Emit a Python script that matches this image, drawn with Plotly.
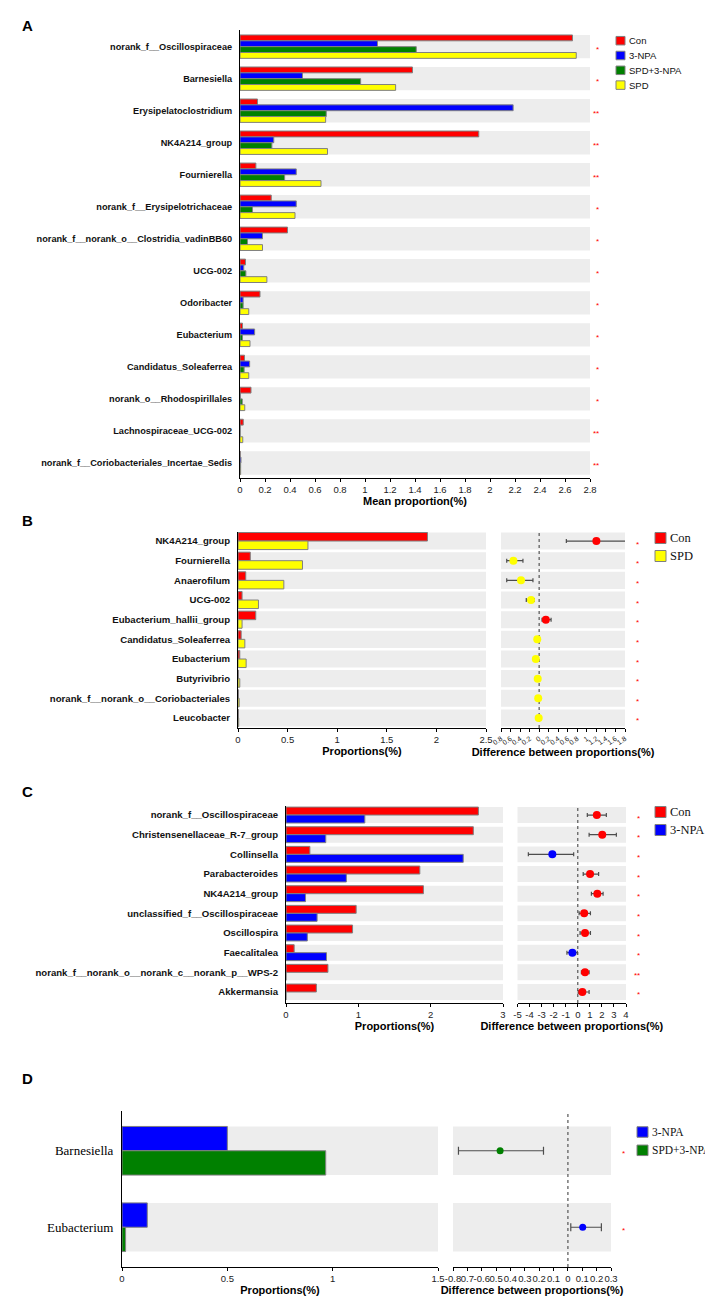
import plotly.graph_objects as go

W, H = 713, 1296

# ---------------- data ----------------
a_categories = ["norank_f__Oscillospiraceae", "Barnesiella", "Erysipelatoclostridium", "NK4A214_group",
                "Fournierella", "norank_f__Erysipelotrichaceae", "norank_f__norank_o__Clostridia_vadinBB60",
                "UCG-002", "Odoribacter", "Eubacterium", "Candidatus_Soleaferrea", "norank_o__Rhodospirillales",
                "Lachnospiraceae_UCG-002", "norank_f__Coriobacteriales_Incertae_Sedis"]
a_groups = ["Con", "3-NPA", "SPD+3-NPA", "SPD"]
a_con = [2.66, 1.38, 0.14, 1.91, 0.127, 0.25, 0.38, 0.044, 0.16, 0.02, 0.036, 0.088, 0.026, 0.002]
a_npa = [1.10, 0.50, 2.185, 0.27, 0.45, 0.45, 0.18, 0.03, 0.025, 0.117, 0.077, 0.002, 0.001, 0.008]
a_spd_npa = [1.41, 0.965, 0.69, 0.255, 0.357, 0.10, 0.06, 0.047, 0.025, 0.02, 0.033, 0.018, 0.001, 0.005]
a_spd = [2.69, 1.245, 0.685, 0.70, 0.648, 0.44, 0.18, 0.215, 0.07, 0.08, 0.07, 0.038, 0.022, 0.005]
a_sig = ["*", "*", "**", "**", "**", "*", "*", "*", "*", "*", "*", "*", "**", "**"]

b_categories = ["NK4A214_group", "Fournierella", "Anaerofilum", "UCG-002", "Eubacterium_hallii_group",
                "Candidatus_Soleaferrea", "Eubacterium", "Butyrivibrio", "norank_f__norank_o__Coriobacteriales",
                "Leucobacter"]
b_groups = ["Con", "SPD"]
b_con = [1.91, 0.124, 0.078, 0.041, 0.179, 0.032, 0.018, 0.004, 0.004, 0.004]
b_spd = [0.705, 0.65, 0.462, 0.206, 0.041, 0.069, 0.082, 0.018, 0.012, 0.007]
b_diff = [1.20, -0.54, -0.38, -0.17, 0.14, -0.04, -0.07, -0.03, -0.02, -0.01]
b_low = [0.57, -0.68, -0.68, -0.27, 0.06, -0.05, -0.08, -0.04, -0.03, -0.02]
b_high = [1.83, -0.34, -0.13, -0.10, 0.25, -0.03, -0.06, -0.02, -0.01, 0.0]
b_sig = ["*"] * 10
b_ticks = [-0.8, -0.6, -0.4, -0.2, 0, 0.2, 0.4, 0.6, 0.8, 1, 1.2, 1.4, 1.6, 1.8]
b_ticktext = ["0.8", "0.6", "0.4", "0.2", "0", "0.2", "0.4", "0.6", "0.8", "1", "1.2", "1.4", "1.6", "1.8"]

c_categories = ["norank_f__Oscillospiraceae", "Christensenellaceae_R-7_group", "Collinsella", "Parabacteroides",
                "NK4A214_group", "unclassified_f__Oscillospiraceae", "Oscillospira", "Faecalitalea",
                "norank_f__norank_o__norank_c__norank_p__WPS-2", "Akkermansia"]
c_groups = ["Con", "3-NPA"]
c_con = [2.66, 2.59, 0.33, 1.85, 1.90, 0.97, 0.92, 0.113, 0.58, 0.42]
c_npa = [1.09, 0.55, 2.45, 0.835, 0.27, 0.43, 0.295, 0.56, 0.0, 0.0]
c_diff = [1.58, 2.03, -2.11, 1.02, 1.62, 0.53, 0.60, -0.45, 0.60, 0.38]
c_low = [0.79, 0.94, -4.10, 0.45, 1.13, 0.11, 0.19, -0.90, 0.30, 0.04]
c_high = [2.37, 3.20, -0.34, 1.73, 2.10, 1.05, 1.05, -0.04, 0.94, 0.94]
c_sig = ["*", "*", "*", "*", "*", "*", "*", "*", "**", "*"]
c_ticks = [-5, -4, -3, -2, -1, 0, 1, 2, 3, 4]
c_ticktext = ["-5", "-4", "-3", "-2", "-1", "0", "1", "2", "3", "4"]

d_categories = ["Barnesiella", "Eubacterium"]
d_groups = ["3-NPA", "SPD+3-NPA"]
d_npa = [0.50, 0.12]
d_spd_npa = [0.967, 0.017]
d_diff = [-0.472, 0.103]
d_low = [-0.762, 0.02]
d_high = [-0.17, 0.233]
d_sig = ["*", "*"]
d_ticks = [-0.8, -0.7, -0.6, -0.5, -0.4, -0.3, -0.2, -0.1, 0, 0.1, 0.2, 0.3]
d_ticktext = ["-0.8", "0.7", "-0.6", "0.5", "0.4", "0.3", "0.2", "0.1", "0", "0.1", "0.2", "0.3"]

# ---------------- styles ----------------
COLORS = {"Con": "#FF0000", "3-NPA": "#0000FF", "SPD+3-NPA": "#008000", "SPD": "#FFFF00"}
BAND = "#EDEDED"
OUTLINE = "#808080"
NARROW = "Liberation Sans Narrow, Arial Narrow, Liberation Sans, Arial, sans-serif"
SANS = "Liberation Sans, Arial, sans-serif"
SERIF = "Liberation Serif, Times New Roman, serif"

fig = go.Figure()


def dom_x(a, b):
    return [a / W, b / W]


def dom_y(top, bottom):
    return [1 - bottom / H, 1 - top / H]


def bar_panel(xa, ya, cats, groups, values, band_frac):
    idx = list(range(len(cats)))
    for i in idx:
        fig.add_shape(type="rect", xref=xa + " domain", yref=ya, x0=0, x1=1,
                      y0=i - band_frac / 2, y1=i + band_frac / 2,
                      fillcolor=BAND, line_width=0, layer="below")
    bw = band_frac / len(groups)
    for k, (name, vals) in enumerate(zip(groups, values)):
        fig.add_trace(go.Bar(x=vals, y=idx, orientation="h", name=name, xaxis=xa, yaxis=ya,
                             width=bw, offset=-band_frac / 2 + k * bw, showlegend=False,
                             marker=dict(color=COLORS[name], line=dict(color=OUTLINE, width=1)),
                             hoverinfo="x+name"))


def diff_panel(xa, ya, cats, diff, low, high, pos_name, neg_name, band_frac, size, cap):
    idx = list(range(len(cats)))
    for i in idx:
        fig.add_shape(type="rect", xref=xa + " domain", yref=ya, x0=0, x1=1,
                      y0=i - band_frac / 2, y1=i + band_frac / 2,
                      fillcolor=BAND, line_width=0, layer="below")
    fig.add_shape(type="line", xref=xa, yref=ya + " domain", x0=0, x1=0, y0=0, y1=1,
                  line=dict(color="#555555", width=1.2, dash="dot"), layer="below")
    colors = [COLORS[pos_name] if d >= 0 else COLORS[neg_name] for d in diff]
    fig.add_trace(go.Scatter(x=diff, y=idx, mode="markers", xaxis=xa, yaxis=ya, showlegend=False,
                             marker=dict(color=colors, size=size),
                             error_x=dict(type="data", symmetric=False,
                                          array=[h - d for h, d in zip(high, diff)],
                                          arrayminus=[d - l for d, l in zip(diff, low)],
                                          color="#4D4D4D", thickness=1.2, width=cap)))


def stars(ya, sig, xpx):
    for i, s in enumerate(sig):
        fig.add_annotation(text=s, x=xpx / W, xref="paper", y=i, yref=ya, showarrow=False,
                           font=dict(color="#FF0000", size=8, family=SANS), yshift=-3)


def legend_box(groups, left, first_center, step, sq_w, sq_h, font):
    # manual legend: coloured square + label for each group
    for k, name in enumerate(groups):
        cy = first_center + k * step
        fig.add_shape(type="rect", xref="paper", yref="paper",
                      x0=left / W, x1=(left + sq_w) / W,
                      y0=1 - (cy + sq_h / 2) / H, y1=1 - (cy - sq_h / 2) / H,
                      fillcolor=COLORS[name], line=dict(color=OUTLINE, width=1))
        fig.add_annotation(text=name, x=(left + sq_w + 1.5) / W, y=1 - cy / H, xref="paper", yref="paper",
                           xanchor="left", yanchor="middle", showarrow=False, font=font)


# Panel A
bar_panel("x", "y", a_categories, a_groups, [a_con, a_npa, a_spd_npa, a_spd], 0.73)
stars("y", a_sig, 593)
legend_box(a_groups, 608, 32.7, 14.8, 9, 8.5, dict(family=NARROW, size=9.5, color="#111111"))

# Panel B
bar_panel("x2", "y2", b_categories, b_groups, [b_con, b_spd], 0.87)
diff_panel("x3", "y3", b_categories, b_diff, b_low, b_high, "Con", "SPD", 0.87, 8, 2)
stars("y2", b_sig, 633)
legend_box(b_groups, 647, 530, 18, 11, 11, dict(family=SERIF, size=12.5, color="#111111"))

# Panel C
bar_panel("x4", "y4", c_categories, c_groups, [c_con, c_npa], 0.81)
diff_panel("x5", "y5", c_categories, c_diff, c_low, c_high, "Con", "3-NPA", 0.81, 8, 2)
stars("y4", c_sig, 634)
legend_box(c_groups, 647, 804, 18, 11, 11, dict(family=SERIF, size=12.5, color="#111111"))

# Panel D
bar_panel("x6", "y6", d_categories, d_groups, [d_npa, d_spd_npa], 0.636)
diff_panel("x7", "y7", d_categories, d_diff, d_low, d_high, "3-NPA", "SPD+3-NPA", 0.636, 7, 4)
stars("y6", d_sig, 619)
legend_box(d_groups, 629, 1124, 18.3, 11, 10.5, dict(family=SERIF, size=11.5, color="#111111"))

# ---------------- axes ----------------
axline = dict(showline=True, linecolor="black", linewidth=1, showgrid=False, zeroline=False, automargin=False)
tfont_narrow = dict(family=NARROW, size=9.5, color="#222222")
tfont_sans = dict(family=SANS, size=9.5, color="#222222")
title_font = dict(family=SANS, size=11, color="black", weight="bold")


def xcfg(domain, rng, anchor, title, tickfont, standoff, **kw):
    d = dict(domain=domain, range=rng, anchor=anchor, ticks="outside", ticklen=3, tickcolor="black",
             tickfont=tickfont, title=dict(text=title, font=title_font, standoff=standoff), **axline)
    d.update(kw)
    return d


def ycfg(domain, n, top_pad, bottom_pad, anchor, cats, tickfont, showline=True):
    d = dict(domain=domain, range=[n - 1 + bottom_pad, -top_pad], anchor=anchor,
             tickmode="array", tickvals=list(range(n)), ticktext=cats if cats else [""] * n,
             ticks="", tickfont=tickfont, ticklabelstandoff=5, showgrid=False, zeroline=False,
             showline=showline, linecolor="black", linewidth=1, showticklabels=bool(cats),
             automargin=False)
    return d


def label_font(size):
    return dict(family=SANS, size=size, color="#111111", weight="bold")


fig.update_layout(
    xaxis=xcfg(dom_x(232, 582), [0, 2.8], "y", "Mean proportion(%)", tfont_narrow, 2, dtick=0.2, tick0=0),
    yaxis=ycfg(dom_y(22, 470), len(a_categories), 0.52, 0.47, "x", a_categories, label_font(9.2)),

    xaxis2=xcfg(dom_x(230, 478), [0, 2.5], "y2", "Proportions(%)", tfont_narrow, 2, dtick=0.5, tick0=0),
    yaxis2=ycfg(dom_y(524, 720), len(b_categories), 0.46, 0.51, "x2", b_categories, label_font(9.6)),
    xaxis3=xcfg(dom_x(493, 617), [-0.8, 1.8], "y3", "Difference between proportions(%)",
                dict(family=NARROW, size=7, color="#222222"), 0,
                tickmode="array", tickvals=b_ticks, ticktext=b_ticktext, tickangle=-35),
    yaxis3=ycfg(dom_y(524, 720), len(b_categories), 0.46, 0.51, "x3", None, label_font(9), showline=False),

    xaxis4=xcfg(dom_x(278, 495), [0, 3], "y4", "Proportions(%)", tfont_narrow, 2, dtick=1, tick0=0),
    yaxis4=ycfg(dom_y(798, 995), len(c_categories), 0.46, 0.56, "x4", c_categories, label_font(9.6)),
    xaxis5=xcfg(dom_x(509.5, 618), [-5, 4], "y5", "Difference between proportions(%)", tfont_sans, 2,
                tickmode="array", tickvals=c_ticks, ticktext=c_ticktext, tickangle=0),
    yaxis5=ycfg(dom_y(798, 995), len(c_categories), 0.46, 0.56, "x5", None, label_font(9), showline=False),

    xaxis6=xcfg(dom_x(114, 430), [0, 1.5], "y6", "Proportions(%)", tfont_sans, 2, dtick=0.5, tick0=0),
    yaxis6=ycfg(dom_y(1103, 1259), len(d_categories), 0.52, 0.52, "x6", d_categories,
                dict(family=SERIF, size=13, color="black")),
    xaxis7=xcfg(dom_x(445, 603), [-0.8, 0.3], "y7", "Difference between proportions(%)", tfont_sans, 2,
                tickmode="array", tickvals=d_ticks, ticktext=d_ticktext, tickangle=0),
    yaxis7=ycfg(dom_y(1103, 1259), len(d_categories), 0.52, 0.52, "x7", None, label_font(9), showline=False),
)

for letter, ypx in [("A", 18), ("B", 512), ("C", 783), ("D", 1070)]:
    fig.add_annotation(text=letter, x=12 / W, y=1 - ypx / H, xref="paper", yref="paper",
                       xanchor="left", yanchor="middle", showarrow=False,
                       font=dict(family=SANS, size=15, color="black", weight="bold"))

fig.update_layout(width=W, height=H, margin=dict(l=0, r=0, t=0, b=0), template="none",
                  paper_bgcolor="white", plot_bgcolor="white", barmode="overlay", showlegend=False)

fig.write_html("out.html")
